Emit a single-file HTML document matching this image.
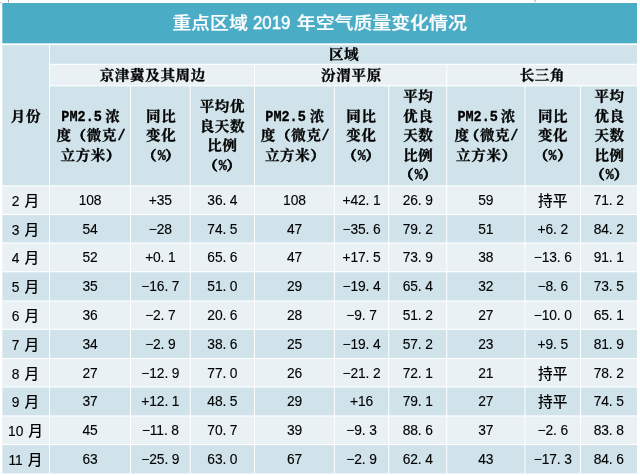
<!DOCTYPE html>
<html lang="zh-CN">
<head>
<meta charset="utf-8">
<title>重点区域 2019 年空气质量变化情况</title>
<style>
html,body{margin:0;padding:0;background:#fff;}
body{width:640px;height:476px;position:relative;overflow:hidden;}
#grid{position:absolute;left:0;top:0;}
.c{position:absolute;text-align:center;white-space:nowrap;color:#000;}
.t{font-family:"Liberation Sans","Noto Sans CJK SC",sans-serif;font-size:18.9px;color:#fff;font-weight:500;-webkit-text-stroke:.25px #fff;line-height:24px;transform:scaleY(.89);transform-origin:50% 85.5%;}
.t span{display:inline-block;-webkit-text-stroke:.55px #fff;font-size:20.6px;font-weight:400;width:37.5px;transform:scaleX(.816);transform-origin:0 50%;text-align:left;margin:0 1.5px 0 -0.5px;line-height:20px;position:relative;top:.3px;}
.h{font-family:"Liberation Serif","Noto Serif CJK SC",serif;font-weight:700;font-size:13.2px;letter-spacing:.62px;padding-left:.62px;box-sizing:border-box;line-height:19.6px;-webkit-text-stroke:.33px #000;transform:scaleX(1.10);transform-origin:50% 50%;}
.d{font-family:"Liberation Sans","Noto Sans CJK SC",sans-serif;font-size:13.8px;letter-spacing:-.12px;line-height:20px;-webkit-text-stroke:.12px #000;}
.p{-webkit-text-stroke:.7px #000;}
.q{-webkit-text-stroke:.55px #000;}
.k{font-size:14.67px;letter-spacing:0;-webkit-text-stroke:0;font-weight:500;}
.k.y{margin-left:1.3px;}
.m{display:inline-block;line-height:12px;vertical-align:baseline;font-family:"Liberation Mono",monospace;font-weight:700;font-size:14.5px;letter-spacing:0;transform:scaleX(0.846);transform-origin:0 50%;white-space:nowrap;text-align:left;-webkit-text-stroke:.3px #000;}
</style>
</head>
<body>
<svg id="grid" width="640" height="476" viewBox="0 0 640 476">
<rect x="2.30" y="3.00" width="634.70" height="40.30" fill="#4BACC6"/>
<rect x="8.00" y="0.00" width="1.00" height="2.40" fill="#a8a8a8"/>
<rect x="0.00" y="2.10" width="1.40" height="0.80" fill="#a8a8a8"/>
<rect x="534.20" y="0.00" width="1.60" height="2.20" fill="#c8c8c8"/>
<rect x="2.30" y="45.10" width="46.70" height="140.25" fill="#D0E3EA"/>
<rect x="50.00" y="45.10" width="587.00" height="18.65" fill="#D0E3EA"/>
<rect x="50.00" y="64.85" width="204.00" height="20.35" fill="#E9F1F5"/>
<rect x="255.00" y="64.85" width="191.25" height="20.35" fill="#E9F1F5"/>
<rect x="447.25" y="64.85" width="189.75" height="20.35" fill="#E9F1F5"/>
<rect x="50.00" y="86.30" width="80.00" height="99.05" fill="#D0E3EA"/>
<rect x="131.00" y="86.30" width="58.75" height="99.05" fill="#D0E3EA"/>
<rect x="190.75" y="86.30" width="63.25" height="99.05" fill="#D0E3EA"/>
<rect x="255.00" y="86.30" width="78.90" height="99.05" fill="#D0E3EA"/>
<rect x="334.90" y="86.30" width="53.35" height="99.05" fill="#D0E3EA"/>
<rect x="389.25" y="86.30" width="57.00" height="99.05" fill="#D0E3EA"/>
<rect x="447.25" y="86.30" width="77.25" height="99.05" fill="#D0E3EA"/>
<rect x="525.50" y="86.30" width="54.50" height="99.05" fill="#D0E3EA"/>
<rect x="581.00" y="86.30" width="56.00" height="99.05" fill="#D0E3EA"/>
<rect x="2.30" y="186.45" width="46.70" height="27.50" fill="#E9F1F5"/>
<rect x="50.00" y="186.45" width="80.00" height="27.50" fill="#E9F1F5"/>
<rect x="131.00" y="186.45" width="58.75" height="27.50" fill="#E9F1F5"/>
<rect x="190.75" y="186.45" width="63.25" height="27.50" fill="#E9F1F5"/>
<rect x="255.00" y="186.45" width="78.90" height="27.50" fill="#E9F1F5"/>
<rect x="334.90" y="186.45" width="53.35" height="27.50" fill="#E9F1F5"/>
<rect x="389.25" y="186.45" width="57.00" height="27.50" fill="#E9F1F5"/>
<rect x="447.25" y="186.45" width="77.25" height="27.50" fill="#E9F1F5"/>
<rect x="525.50" y="186.45" width="54.50" height="27.50" fill="#E9F1F5"/>
<rect x="581.00" y="186.45" width="56.00" height="27.50" fill="#E9F1F5"/>
<rect x="2.30" y="215.05" width="46.70" height="27.40" fill="#D0E3EA"/>
<rect x="50.00" y="215.05" width="80.00" height="27.40" fill="#D0E3EA"/>
<rect x="131.00" y="215.05" width="58.75" height="27.40" fill="#D0E3EA"/>
<rect x="190.75" y="215.05" width="63.25" height="27.40" fill="#D0E3EA"/>
<rect x="255.00" y="215.05" width="78.90" height="27.40" fill="#D0E3EA"/>
<rect x="334.90" y="215.05" width="53.35" height="27.40" fill="#D0E3EA"/>
<rect x="389.25" y="215.05" width="57.00" height="27.40" fill="#D0E3EA"/>
<rect x="447.25" y="215.05" width="77.25" height="27.40" fill="#D0E3EA"/>
<rect x="525.50" y="215.05" width="54.50" height="27.40" fill="#D0E3EA"/>
<rect x="581.00" y="215.05" width="56.00" height="27.40" fill="#D0E3EA"/>
<rect x="2.30" y="243.55" width="46.70" height="27.65" fill="#E9F1F5"/>
<rect x="50.00" y="243.55" width="80.00" height="27.65" fill="#E9F1F5"/>
<rect x="131.00" y="243.55" width="58.75" height="27.65" fill="#E9F1F5"/>
<rect x="190.75" y="243.55" width="63.25" height="27.65" fill="#E9F1F5"/>
<rect x="255.00" y="243.55" width="78.90" height="27.65" fill="#E9F1F5"/>
<rect x="334.90" y="243.55" width="53.35" height="27.65" fill="#E9F1F5"/>
<rect x="389.25" y="243.55" width="57.00" height="27.65" fill="#E9F1F5"/>
<rect x="447.25" y="243.55" width="77.25" height="27.65" fill="#E9F1F5"/>
<rect x="525.50" y="243.55" width="54.50" height="27.65" fill="#E9F1F5"/>
<rect x="581.00" y="243.55" width="56.00" height="27.65" fill="#E9F1F5"/>
<rect x="2.30" y="272.30" width="46.70" height="28.15" fill="#D0E3EA"/>
<rect x="50.00" y="272.30" width="80.00" height="28.15" fill="#D0E3EA"/>
<rect x="131.00" y="272.30" width="58.75" height="28.15" fill="#D0E3EA"/>
<rect x="190.75" y="272.30" width="63.25" height="28.15" fill="#D0E3EA"/>
<rect x="255.00" y="272.30" width="78.90" height="28.15" fill="#D0E3EA"/>
<rect x="334.90" y="272.30" width="53.35" height="28.15" fill="#D0E3EA"/>
<rect x="389.25" y="272.30" width="57.00" height="28.15" fill="#D0E3EA"/>
<rect x="447.25" y="272.30" width="77.25" height="28.15" fill="#D0E3EA"/>
<rect x="525.50" y="272.30" width="54.50" height="28.15" fill="#D0E3EA"/>
<rect x="581.00" y="272.30" width="56.00" height="28.15" fill="#D0E3EA"/>
<rect x="2.30" y="301.55" width="46.70" height="27.20" fill="#E9F1F5"/>
<rect x="50.00" y="301.55" width="80.00" height="27.20" fill="#E9F1F5"/>
<rect x="131.00" y="301.55" width="58.75" height="27.20" fill="#E9F1F5"/>
<rect x="190.75" y="301.55" width="63.25" height="27.20" fill="#E9F1F5"/>
<rect x="255.00" y="301.55" width="78.90" height="27.20" fill="#E9F1F5"/>
<rect x="334.90" y="301.55" width="53.35" height="27.20" fill="#E9F1F5"/>
<rect x="389.25" y="301.55" width="57.00" height="27.20" fill="#E9F1F5"/>
<rect x="447.25" y="301.55" width="77.25" height="27.20" fill="#E9F1F5"/>
<rect x="525.50" y="301.55" width="54.50" height="27.20" fill="#E9F1F5"/>
<rect x="581.00" y="301.55" width="56.00" height="27.20" fill="#E9F1F5"/>
<rect x="2.30" y="329.85" width="46.70" height="28.10" fill="#D0E3EA"/>
<rect x="50.00" y="329.85" width="80.00" height="28.10" fill="#D0E3EA"/>
<rect x="131.00" y="329.85" width="58.75" height="28.10" fill="#D0E3EA"/>
<rect x="190.75" y="329.85" width="63.25" height="28.10" fill="#D0E3EA"/>
<rect x="255.00" y="329.85" width="78.90" height="28.10" fill="#D0E3EA"/>
<rect x="334.90" y="329.85" width="53.35" height="28.10" fill="#D0E3EA"/>
<rect x="389.25" y="329.85" width="57.00" height="28.10" fill="#D0E3EA"/>
<rect x="447.25" y="329.85" width="77.25" height="28.10" fill="#D0E3EA"/>
<rect x="525.50" y="329.85" width="54.50" height="28.10" fill="#D0E3EA"/>
<rect x="581.00" y="329.85" width="56.00" height="28.10" fill="#D0E3EA"/>
<rect x="2.30" y="359.05" width="46.70" height="27.40" fill="#E9F1F5"/>
<rect x="50.00" y="359.05" width="80.00" height="27.40" fill="#E9F1F5"/>
<rect x="131.00" y="359.05" width="58.75" height="27.40" fill="#E9F1F5"/>
<rect x="190.75" y="359.05" width="63.25" height="27.40" fill="#E9F1F5"/>
<rect x="255.00" y="359.05" width="78.90" height="27.40" fill="#E9F1F5"/>
<rect x="334.90" y="359.05" width="53.35" height="27.40" fill="#E9F1F5"/>
<rect x="389.25" y="359.05" width="57.00" height="27.40" fill="#E9F1F5"/>
<rect x="447.25" y="359.05" width="77.25" height="27.40" fill="#E9F1F5"/>
<rect x="525.50" y="359.05" width="54.50" height="27.40" fill="#E9F1F5"/>
<rect x="581.00" y="359.05" width="56.00" height="27.40" fill="#E9F1F5"/>
<rect x="2.30" y="387.55" width="46.70" height="27.80" fill="#D0E3EA"/>
<rect x="50.00" y="387.55" width="80.00" height="27.80" fill="#D0E3EA"/>
<rect x="131.00" y="387.55" width="58.75" height="27.80" fill="#D0E3EA"/>
<rect x="190.75" y="387.55" width="63.25" height="27.80" fill="#D0E3EA"/>
<rect x="255.00" y="387.55" width="78.90" height="27.80" fill="#D0E3EA"/>
<rect x="334.90" y="387.55" width="53.35" height="27.80" fill="#D0E3EA"/>
<rect x="389.25" y="387.55" width="57.00" height="27.80" fill="#D0E3EA"/>
<rect x="447.25" y="387.55" width="77.25" height="27.80" fill="#D0E3EA"/>
<rect x="525.50" y="387.55" width="54.50" height="27.80" fill="#D0E3EA"/>
<rect x="581.00" y="387.55" width="56.00" height="27.80" fill="#D0E3EA"/>
<rect x="2.30" y="416.45" width="46.70" height="27.50" fill="#E9F1F5"/>
<rect x="50.00" y="416.45" width="80.00" height="27.50" fill="#E9F1F5"/>
<rect x="131.00" y="416.45" width="58.75" height="27.50" fill="#E9F1F5"/>
<rect x="190.75" y="416.45" width="63.25" height="27.50" fill="#E9F1F5"/>
<rect x="255.00" y="416.45" width="78.90" height="27.50" fill="#E9F1F5"/>
<rect x="334.90" y="416.45" width="53.35" height="27.50" fill="#E9F1F5"/>
<rect x="389.25" y="416.45" width="57.00" height="27.50" fill="#E9F1F5"/>
<rect x="447.25" y="416.45" width="77.25" height="27.50" fill="#E9F1F5"/>
<rect x="525.50" y="416.45" width="54.50" height="27.50" fill="#E9F1F5"/>
<rect x="581.00" y="416.45" width="56.00" height="27.50" fill="#E9F1F5"/>
<rect x="2.30" y="445.05" width="46.70" height="28.35" fill="#D0E3EA"/>
<rect x="50.00" y="445.05" width="80.00" height="28.35" fill="#D0E3EA"/>
<rect x="131.00" y="445.05" width="58.75" height="28.35" fill="#D0E3EA"/>
<rect x="190.75" y="445.05" width="63.25" height="28.35" fill="#D0E3EA"/>
<rect x="255.00" y="445.05" width="78.90" height="28.35" fill="#D0E3EA"/>
<rect x="334.90" y="445.05" width="53.35" height="28.35" fill="#D0E3EA"/>
<rect x="389.25" y="445.05" width="57.00" height="28.35" fill="#D0E3EA"/>
<rect x="447.25" y="445.05" width="77.25" height="28.35" fill="#D0E3EA"/>
<rect x="525.50" y="445.05" width="54.50" height="28.35" fill="#D0E3EA"/>
<rect x="581.00" y="445.05" width="56.00" height="28.35" fill="#D0E3EA"/>
</svg>
<div class="c t" style="left:2px;width:635px;top:11.15px;">重点区域 <span>2019</span> 年空气质量变化情况</div>
<div class="c h" style="left:2.30px;width:47.20px;top:106.52px;">月份</div>
<div class="c h" style="left:49.50px;width:587.50px;top:44.73px;">区域</div>
<div class="c h" style="left:49.50px;width:205.00px;top:66.33px;">京津冀及其周边</div>
<div class="c h" style="left:254.50px;width:192.25px;top:66.33px;">汾渭平原</div>
<div class="c h" style="left:446.75px;width:190.25px;top:66.33px;">长三角</div>
<div class="c h" style="left:49.50px;width:81.00px;top:106.72px;"><span class="m" style="width:36.82px;margin-right:3.2px">PM2.5</span>浓<br>度<span class="p">（</span>微克<span class="m" style="width:7.36px">/</span><br>立方米<span class="p">）</span></div>
<div class="c h" style="left:130.50px;width:59.75px;top:106.72px;">同比<br>变化<br><span class="p">（</span><span class="m q" style="width:7.36px">%</span><span class="p">）</span></div>
<div class="c h" style="left:254.50px;width:79.90px;top:106.72px;"><span class="m" style="width:36.82px;margin-right:3.2px">PM2.5</span>浓<br>度<span class="p">（</span>微克<span class="m" style="width:7.36px">/</span><br>立方米<span class="p">）</span></div>
<div class="c h" style="left:334.40px;width:54.35px;top:106.72px;">同比<br>变化<br><span class="p">（</span><span class="m q" style="width:7.36px">%</span><span class="p">）</span></div>
<div class="c h" style="left:446.75px;width:78.25px;top:106.72px;"><span class="m" style="width:36.82px;margin-right:3.2px">PM2.5</span>浓<br>度<span class="p" style="margin-left:-4.6px">（</span>微克<span class="m" style="width:7.36px">/</span><br>立方米<span class="p">）</span></div>
<div class="c h" style="left:525.00px;width:55.50px;top:106.72px;">同比<br>变化<br><span class="p">（</span><span class="m q" style="width:7.36px">%</span><span class="p">）</span></div>
<div class="c h" style="left:190.25px;width:64.25px;top:96.92px;">平均优<br>良天数<br>比例<br><span class="p">（</span><span class="m q" style="width:7.36px">%</span><span class="p">）</span></div>
<div class="c h" style="left:388.75px;width:58.00px;top:87.12px;">平均<br>优良<br>天数<br>比例<br><span class="p">（</span><span class="m q" style="width:7.36px">%</span><span class="p">）</span></div>
<div class="c h" style="left:580.50px;width:56.50px;top:87.12px;">平均<br>优良<br>天数<br>比例<br><span class="p">（</span><span class="m q" style="width:7.36px">%</span><span class="p">）</span></div>
<div class="c d" style="left:1.90px;width:47.20px;top:191.10px;">2 <span class="k y">月</span></div>
<div class="c d" style="left:49.50px;width:81.00px;top:191.10px;">108</div>
<div class="c d" style="left:130.50px;width:59.75px;top:191.10px;">+35</div>
<div class="c d" style="left:190.25px;width:64.25px;top:191.10px;">36. 4</div>
<div class="c d" style="left:254.50px;width:79.90px;top:191.10px;">108</div>
<div class="c d" style="left:334.40px;width:54.35px;top:191.10px;">+42. 1</div>
<div class="c d" style="left:388.75px;width:58.00px;top:191.10px;">26. 9</div>
<div class="c d" style="left:446.75px;width:78.25px;top:191.10px;">59</div>
<div class="c d" style="left:525.00px;width:55.50px;top:191.10px;"><span class="k">持平</span></div>
<div class="c d" style="left:580.50px;width:56.50px;top:191.10px;">71. 2</div>
<div class="c d" style="left:1.90px;width:47.20px;top:219.65px;">3 <span class="k y">月</span></div>
<div class="c d" style="left:49.50px;width:81.00px;top:219.65px;">54</div>
<div class="c d" style="left:130.50px;width:59.75px;top:219.65px;">−28</div>
<div class="c d" style="left:190.25px;width:64.25px;top:219.65px;">74. 5</div>
<div class="c d" style="left:254.50px;width:79.90px;top:219.65px;">47</div>
<div class="c d" style="left:334.40px;width:54.35px;top:219.65px;">−35. 6</div>
<div class="c d" style="left:388.75px;width:58.00px;top:219.65px;">79. 2</div>
<div class="c d" style="left:446.75px;width:78.25px;top:219.65px;">51</div>
<div class="c d" style="left:525.00px;width:55.50px;top:219.65px;">+6. 2</div>
<div class="c d" style="left:580.50px;width:56.50px;top:219.65px;">84. 2</div>
<div class="c d" style="left:1.90px;width:47.20px;top:248.28px;">4 <span class="k y">月</span></div>
<div class="c d" style="left:49.50px;width:81.00px;top:248.28px;">52</div>
<div class="c d" style="left:130.50px;width:59.75px;top:248.28px;">+0. 1</div>
<div class="c d" style="left:190.25px;width:64.25px;top:248.28px;">65. 6</div>
<div class="c d" style="left:254.50px;width:79.90px;top:248.28px;">47</div>
<div class="c d" style="left:334.40px;width:54.35px;top:248.28px;">+17. 5</div>
<div class="c d" style="left:388.75px;width:58.00px;top:248.28px;">73. 9</div>
<div class="c d" style="left:446.75px;width:78.25px;top:248.28px;">38</div>
<div class="c d" style="left:525.00px;width:55.50px;top:248.28px;">−13. 6</div>
<div class="c d" style="left:580.50px;width:56.50px;top:248.28px;">91. 1</div>
<div class="c d" style="left:1.90px;width:47.20px;top:277.27px;">5 <span class="k y">月</span></div>
<div class="c d" style="left:49.50px;width:81.00px;top:277.27px;">35</div>
<div class="c d" style="left:130.50px;width:59.75px;top:277.27px;">−16. 7</div>
<div class="c d" style="left:190.25px;width:64.25px;top:277.27px;">51. 0</div>
<div class="c d" style="left:254.50px;width:79.90px;top:277.27px;">29</div>
<div class="c d" style="left:334.40px;width:54.35px;top:277.27px;">−19. 4</div>
<div class="c d" style="left:388.75px;width:58.00px;top:277.27px;">65. 4</div>
<div class="c d" style="left:446.75px;width:78.25px;top:277.27px;">32</div>
<div class="c d" style="left:525.00px;width:55.50px;top:277.27px;">−8. 6</div>
<div class="c d" style="left:580.50px;width:56.50px;top:277.27px;">73. 5</div>
<div class="c d" style="left:1.90px;width:47.20px;top:306.05px;">6 <span class="k y">月</span></div>
<div class="c d" style="left:49.50px;width:81.00px;top:306.05px;">36</div>
<div class="c d" style="left:130.50px;width:59.75px;top:306.05px;">−2. 7</div>
<div class="c d" style="left:190.25px;width:64.25px;top:306.05px;">20. 6</div>
<div class="c d" style="left:254.50px;width:79.90px;top:306.05px;">28</div>
<div class="c d" style="left:334.40px;width:54.35px;top:306.05px;">−9. 7</div>
<div class="c d" style="left:388.75px;width:58.00px;top:306.05px;">51. 2</div>
<div class="c d" style="left:446.75px;width:78.25px;top:306.05px;">27</div>
<div class="c d" style="left:525.00px;width:55.50px;top:306.05px;">−10. 0</div>
<div class="c d" style="left:580.50px;width:56.50px;top:306.05px;">65. 1</div>
<div class="c d" style="left:1.90px;width:47.20px;top:334.80px;">7 <span class="k y">月</span></div>
<div class="c d" style="left:49.50px;width:81.00px;top:334.80px;">34</div>
<div class="c d" style="left:130.50px;width:59.75px;top:334.80px;">−2. 9</div>
<div class="c d" style="left:190.25px;width:64.25px;top:334.80px;">38. 6</div>
<div class="c d" style="left:254.50px;width:79.90px;top:334.80px;">25</div>
<div class="c d" style="left:334.40px;width:54.35px;top:334.80px;">−19. 4</div>
<div class="c d" style="left:388.75px;width:58.00px;top:334.80px;">57. 2</div>
<div class="c d" style="left:446.75px;width:78.25px;top:334.80px;">23</div>
<div class="c d" style="left:525.00px;width:55.50px;top:334.80px;">+9. 5</div>
<div class="c d" style="left:580.50px;width:56.50px;top:334.80px;">81. 9</div>
<div class="c d" style="left:1.90px;width:47.20px;top:363.65px;">8 <span class="k y">月</span></div>
<div class="c d" style="left:49.50px;width:81.00px;top:363.65px;">27</div>
<div class="c d" style="left:130.50px;width:59.75px;top:363.65px;">−12. 9</div>
<div class="c d" style="left:190.25px;width:64.25px;top:363.65px;">77. 0</div>
<div class="c d" style="left:254.50px;width:79.90px;top:363.65px;">26</div>
<div class="c d" style="left:334.40px;width:54.35px;top:363.65px;">−21. 2</div>
<div class="c d" style="left:388.75px;width:58.00px;top:363.65px;">72. 1</div>
<div class="c d" style="left:446.75px;width:78.25px;top:363.65px;">21</div>
<div class="c d" style="left:525.00px;width:55.50px;top:363.65px;"><span class="k">持平</span></div>
<div class="c d" style="left:580.50px;width:56.50px;top:363.65px;">78. 2</div>
<div class="c d" style="left:1.90px;width:47.20px;top:392.35px;">9 <span class="k y">月</span></div>
<div class="c d" style="left:49.50px;width:81.00px;top:392.35px;">37</div>
<div class="c d" style="left:130.50px;width:59.75px;top:392.35px;">+12. 1</div>
<div class="c d" style="left:190.25px;width:64.25px;top:392.35px;">48. 5</div>
<div class="c d" style="left:254.50px;width:79.90px;top:392.35px;">29</div>
<div class="c d" style="left:334.40px;width:54.35px;top:392.35px;">+16</div>
<div class="c d" style="left:388.75px;width:58.00px;top:392.35px;">79. 1</div>
<div class="c d" style="left:446.75px;width:78.25px;top:392.35px;">27</div>
<div class="c d" style="left:525.00px;width:55.50px;top:392.35px;"><span class="k">持平</span></div>
<div class="c d" style="left:580.50px;width:56.50px;top:392.35px;">74. 5</div>
<div class="c d" style="left:1.90px;width:47.20px;top:421.10px;">10 <span class="k y">月</span></div>
<div class="c d" style="left:49.50px;width:81.00px;top:421.10px;">45</div>
<div class="c d" style="left:130.50px;width:59.75px;top:421.10px;">−11. 8</div>
<div class="c d" style="left:190.25px;width:64.25px;top:421.10px;">70. 7</div>
<div class="c d" style="left:254.50px;width:79.90px;top:421.10px;">39</div>
<div class="c d" style="left:334.40px;width:54.35px;top:421.10px;">−9. 3</div>
<div class="c d" style="left:388.75px;width:58.00px;top:421.10px;">88. 6</div>
<div class="c d" style="left:446.75px;width:78.25px;top:421.10px;">37</div>
<div class="c d" style="left:525.00px;width:55.50px;top:421.10px;">−2. 6</div>
<div class="c d" style="left:580.50px;width:56.50px;top:421.10px;">83. 8</div>
<div class="c d" style="left:1.90px;width:47.20px;top:450.12px;">11 <span class="k y">月</span></div>
<div class="c d" style="left:49.50px;width:81.00px;top:450.12px;">63</div>
<div class="c d" style="left:130.50px;width:59.75px;top:450.12px;">−25. 9</div>
<div class="c d" style="left:190.25px;width:64.25px;top:450.12px;">63. 0</div>
<div class="c d" style="left:254.50px;width:79.90px;top:450.12px;">67</div>
<div class="c d" style="left:334.40px;width:54.35px;top:450.12px;">−2. 9</div>
<div class="c d" style="left:388.75px;width:58.00px;top:450.12px;">62. 4</div>
<div class="c d" style="left:446.75px;width:78.25px;top:450.12px;">43</div>
<div class="c d" style="left:525.00px;width:55.50px;top:450.12px;">−17. 3</div>
<div class="c d" style="left:580.50px;width:56.50px;top:450.12px;">84. 6</div>
</body>
</html>
